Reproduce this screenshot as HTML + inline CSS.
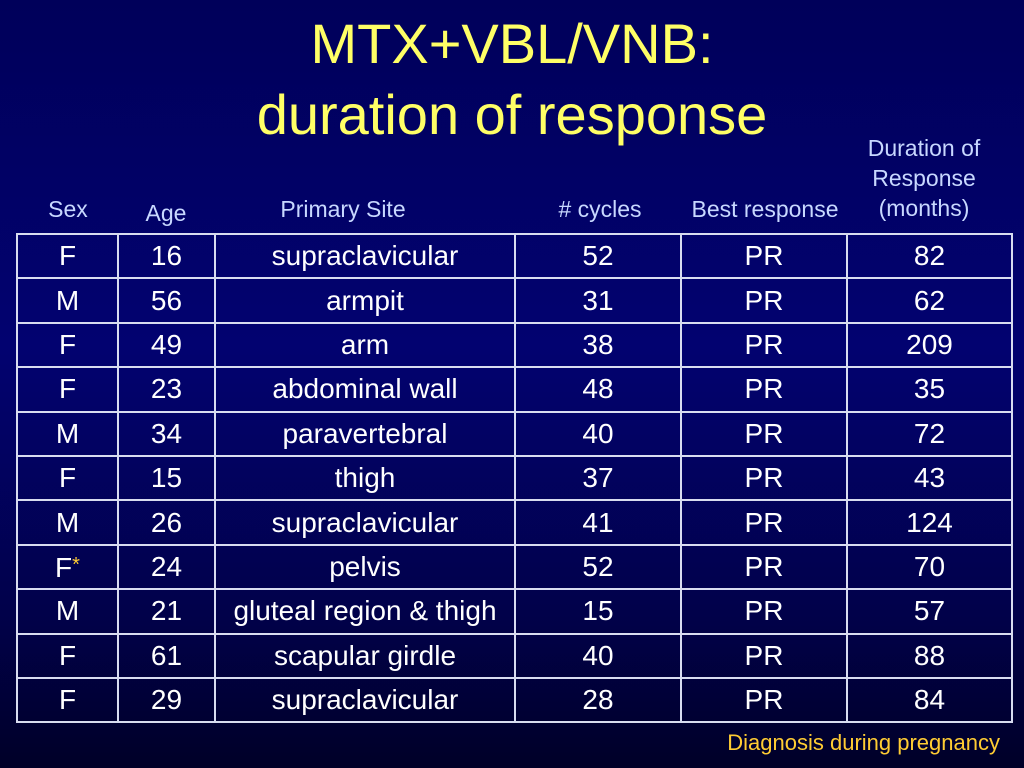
<!DOCTYPE html>
<html><head><meta charset="utf-8"><style>
body{margin:0;width:1024px;height:768px;overflow:hidden;font-family:"Liberation Sans",sans-serif;
background:linear-gradient(180deg,#00005a 0%,#020270 45%,#01014a 80%,#000028 100%);position:relative}
.t{position:absolute;left:0;width:1024px;text-align:center;color:#ffff66;font-size:56px;line-height:60px}
.h{position:absolute;color:#c8d8ff;font-size:23px;text-align:center;transform:translateX(-50%);white-space:nowrap;line-height:30px}
table{position:absolute;left:16px;top:233px;border-collapse:collapse;color:#fff;font-size:28px}
tr{height:44.4px}
td{border:2px solid #d8dcf0;padding:0;text-align:center;vertical-align:middle;line-height:30px}
.fn{position:absolute;right:24px;top:730px;color:#ffcc33;font-size:22px}
</style></head><body>
<div class="t" style="top:14px">MTX+VBL/VNB:</div>
<div class="t" style="top:85px">duration of response</div>
<div class="h" style="left:68px;top:194px">Sex</div>
<div class="h" style="left:166px;top:198px">Age</div>
<div class="h" style="left:343px;top:194px">Primary Site</div>
<div class="h" style="left:600px;top:194px"># cycles</div>
<div class="h" style="left:765px;top:194px">Best response</div>
<div class="h" style="left:924px;top:133px">Duration of<br>Response<br>(months)</div>
<table>
<colgroup><col style="width:101px"><col style="width:97px"><col style="width:300px"><col style="width:166px"><col style="width:166px"><col style="width:165px"></colgroup>
<tbody id="tb"></tbody></table>
<div class="fn">Diagnosis during pregnancy</div>
<script>
const sex=["F","M","F","F","M","F","M","F*","M","F","F"];
const age=[16,56,49,23,34,15,26,24,21,61,29];
const site=["supraclavicular","armpit","arm","abdominal wall","paravertebral","thigh","supraclavicular","pelvis","gluteal region & thigh","scapular girdle","supraclavicular"];
const cycles=[52,31,38,48,40,37,41,52,15,40,28];
const resp=["PR","PR","PR","PR","PR","PR","PR","PR","PR","PR","PR"];
const dur=[82,62,209,35,72,43,124,70,57,88,84];
const tb=document.getElementById('tb');
for(let i=0;i<sex.length;i++){
 const tr=document.createElement('tr');
 
 
 const vals=[sex[i],age[i],site[i],cycles[i],resp[i],dur[i]];
 vals.forEach(v=>{
  const td=document.createElement('td');
  
  
  const s=String(v);
  if(s.endsWith('*')){td.innerHTML=s.slice(0,-1)+'<span style="color:#ffcc33;font-size:20px;vertical-align:6px">*</span>';}
  else td.textContent=s;
  tr.appendChild(td);
 });
 tb.appendChild(tr);
}
</script>
</body></html>
